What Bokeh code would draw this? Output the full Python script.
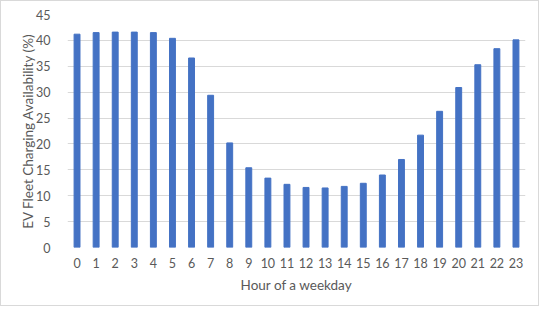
from bokeh.plotting import figure
from bokeh.models import FactorRange, Range1d, FixedTicker, InlineStyleSheet
from bokeh.embed import file_html
from bokeh.resources import INLINE

hours = [str(h) for h in range(24)]
availability = [41.2, 41.5, 41.6, 41.6, 41.5, 40.4, 36.6, 29.4, 20.2, 15.4, 13.4, 12.2,
                11.6, 11.5, 11.8, 12.4, 14.0, 17.0, 21.7, 26.3, 30.9, 35.3, 38.4, 40.1]
y_ticks = [0, 5, 10, 15, 20, 25, 30, 35, 40, 45]

FONT = "Lato"
TXT = "#595959"

p = figure(x_range=FactorRange(factors=hours, range_padding=0),
           y_range=Range1d(0, 45),
           width=539, height=306, output_backend="svg", toolbar_location=None,
           min_border_left=66, min_border_top=13, min_border_right=15, min_border_bottom=60)

p.vbar(x=hours, top=availability, width=0.31, color="#4472C4")

p.outline_line_color = None
p.stylesheets = [InlineStyleSheet(css=":host { border: 1px solid #d9d9d9; box-sizing: border-box; }")]
p.xgrid.grid_line_color = None
p.ygrid.grid_line_color = "#d9d9d9"
p.ygrid.ticker = FixedTicker(ticks=y_ticks)

p.yaxis.ticker = FixedTicker(ticks=y_ticks)
for ax in (p.xaxis[0], p.yaxis[0]):
    ax.axis_line_color = None
    ax.major_tick_line_color = None
    ax.minor_tick_line_color = None
    ax.major_label_text_font = FONT
    ax.major_label_text_color = TXT
    ax.major_label_text_font_size = "12.5px"
    ax.axis_label_text_font = FONT
    ax.axis_label_text_color = TXT
    ax.axis_label_text_font_size = "13.5px"
    ax.axis_label_text_font_style = "normal"

p.xaxis.major_label_standoff = 4
p.yaxis.major_label_standoff = 11
p.xaxis.axis_label = "Hour of a weekday"
p.yaxis.axis_label = "EV Fleet Charging Availability (%)"
p.xaxis.axis_label_standoff = 6
p.yaxis.axis_label_standoff = -3

open("out.html", "w").write(file_html(p, INLINE))
